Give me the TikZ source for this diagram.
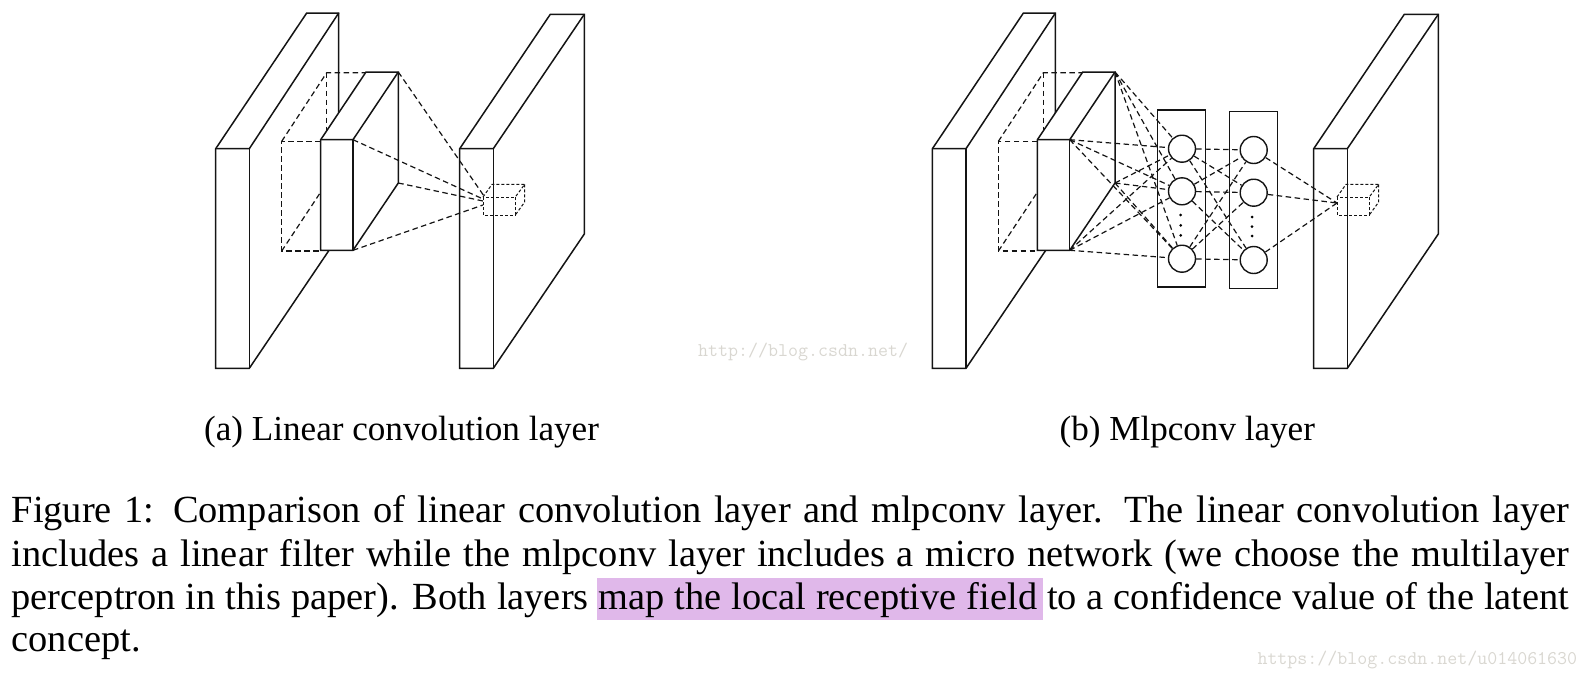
\documentclass[tikz,border=0pt]{standalone}
\usepackage{fontspec}
\setmainfont{Liberation Serif}
\definecolor{hl}{HTML}{E0B8EA}
\definecolor{wm}{HTML}{D9D7D1}
\definecolor{ink}{HTML}{141414}
\tikzset{
  slab/.style={draw=ink,fill=white,line width=1.5pt,line join=miter},
  fan/.style={draw=ink,line width=1.2pt,dash pattern=on 5.5pt off 3.5pt},
  fine/.style={draw=ink,line width=1pt,dash pattern=on 3pt off 2pt},
  unit/.style={circle,draw=ink,fill=white,line width=1.4pt,minimum size=27pt,inner sep=0pt},
  netbox/.style={draw=ink,line width=1.4pt},
  netdot/.style={circle,fill=black,inner sep=0pt,minimum size=3pt},
  subcap/.style={font=\fontsize{35.1}{36}\selectfont,anchor=base west,inner sep=0pt,text=black},
  body/.style={font=\fontsize{38.4}{40}\selectfont,anchor=base west,inner sep=0pt,text=black},
  wmark/.style={font=\ttfamily\fontsize{19.4}{20}\selectfont,text=wm,inner sep=0pt,anchor=base west}
}
% big slab, dashed receptive field, middle filter slab
\newcommand{\frontstack}[2]{%
  \begin{scope}[xshift=#1pt]
    \path[slab] (215.7,148.7) -- (306.7,13) -- (338.7,13) -- (338.7,236) -- (249.3,368.3) -- (215.7,368.3) -- cycle;
    \draw[slab,fill=none] (215.7,148.7) -- (249.3,148.7) -- (338.7,13);
    \draw[slab,fill=none] (249.3,148.7) -- (249.3,368.3);
    \draw[fan] (320.7,141.3) -- (281.7,141.3) -- (281.7,251) -- (320.7,251);
    \draw[fan] (281.7,141.3) -- (326.7,72.7) -- (366,72.7);
    \draw[fan] (326.7,72.7) -- (326.7,139.7);
    \draw[fan] (281.7,251) -- (326.7,183);
    \path[slab] (320.7,139.7) -- (366,72) -- (398.3,72) -- (398.3,183) -- (353,250.3) -- (320.7,250.3) -- cycle;
    \draw[slab,fill=none] (320.7,139.7) -- (353,139.7) -- (398.3,72);
    \draw[slab,fill=none] (353,139.7) -- (353,250.3);
    \coordinate (#2mtop) at (398.3,72);
    \coordinate (#2mfr) at (353,139.7);
    \coordinate (#2mbk) at (398.3,183);
    \coordinate (#2mbr) at (353,250.3);
  \end{scope}}
% right slab
\newcommand{\outslab}[2]{%
  \begin{scope}[xshift=#1pt]
    \path[slab] (459.7,148.7) -- (550.3,14.3) -- (584.3,14.3) -- (584.3,234) -- (493.3,368.3) -- (459.7,368.3) -- cycle;
    \draw[slab,fill=none] (459.7,148.7) -- (493.3,148.7) -- (584.3,14.3);
    \draw[slab,fill=none] (493.3,148.7) -- (493.3,368.3);
    \coordinate (#2ca) at (484,196);
    \coordinate (#2cb) at (483,199);
    \coordinate (#2cc) at (483,201);
    \coordinate (#2cd) at (483,205);
  \end{scope}}
% small dashed cube
\newcommand{\smallcube}[1]{%
  \begin{scope}[xshift=#1pt]
    \draw[fine] (483,197) rectangle (515.3,215);
    \draw[fine] (483,197) -- (492,184.3) -- (524.7,184.3) -- (515.3,197);
    \draw[fine] (524.7,184.3) -- (524.7,202) -- (515.3,215);
  \end{scope}}
\begin{document}
\begin{tikzpicture}[x=1pt,y=-1pt]
\useasboundingbox (0,0) rectangle (1588,678);
% highlight
\fill[hl] (597.3,578.3) rectangle (1042.7,620);
% panel a
\frontstack{0}{a}
\outslab{0}{a}
\draw[fan] (amtop) -- (aca);
\draw[fan] (amfr) -- (acb);
\draw[fan] (ambk) -- (acc);
\draw[fan] (ambr) -- (acd);
\smallcube{0}
% panel b
\frontstack{716.7}{b}
\outslab{854}{b}
\draw[netbox] (1157.7,110) rectangle (1205.7,287);
\draw[netbox] (1229.7,111.7) rectangle (1277.7,288.3);
\node[unit] (p1) at (1182,148.7) {};
\node[unit] (p2) at (1182,191.3) {};
\node[unit] (p3) at (1182,258.7) {};
\node[unit] (q1) at (1253.7,150) {};
\node[unit] (q2) at (1253.7,192.7) {};
\node[unit] (q3) at (1253.7,260) {};
\foreach \s in {bmtop,bmfr,bmbk,bmbr}
  \foreach \t in {p1,p2,p3}
    \draw[fan] (\s) -- (\t);
\foreach \s in {p1,p2,p3}
  \foreach \t in {q1,q2,q3}
    \draw[fan] (\s) -- (\t);
\coordinate (bfocus) at (1337,203);
\foreach \s in {q1,q2,q3}
  \draw[fan] (\s) -- (bfocus);
\smallcube{854}
\node[netdot] (pd1) at (1180.7,215) {};
\node[netdot] (pd2) at (1180.7,225.3) {};
\node[netdot] (pd3) at (1180.7,235.3) {};
\node[netdot] (qd1) at (1252,217) {};
\node[netdot] (qd2) at (1252,226.7) {};
\node[netdot] (qd3) at (1252,236) {};
% captions
\node[subcap] (capa) at (204,440.5) {(a) Linear convolution layer};
\node[subcap] (capb) at (1059.4,440.5) {(b) Mlpconv layer};
\node[body] (l1) at (11.5,522.7) {\makebox[1557.5pt][s]{Figure 1: Comparison of linear convolution layer and mlpconv layer. The linear convolution layer}};
\node[body] (l2) at (11.5,566) {\makebox[1557.5pt][s]{includes a linear filter while the mlpconv layer includes a micro network (we choose the multilayer}};
\node[body] (l3) at (11.5,609.3) {\makebox[1557.5pt][s]{perceptron in this paper). Both layers map the local receptive field to a confidence value of the latent}};
\node[body] (l4) at (11.5,651.5) {concept.};
% watermarks
\node[wmark] (w1) at (698,356) {http://blog.csdn.net/};
\node[wmark] (w2) at (1257.3,664.3) {https://blog.csdn.net/u014061630};
\end{tikzpicture}
\end{document}
